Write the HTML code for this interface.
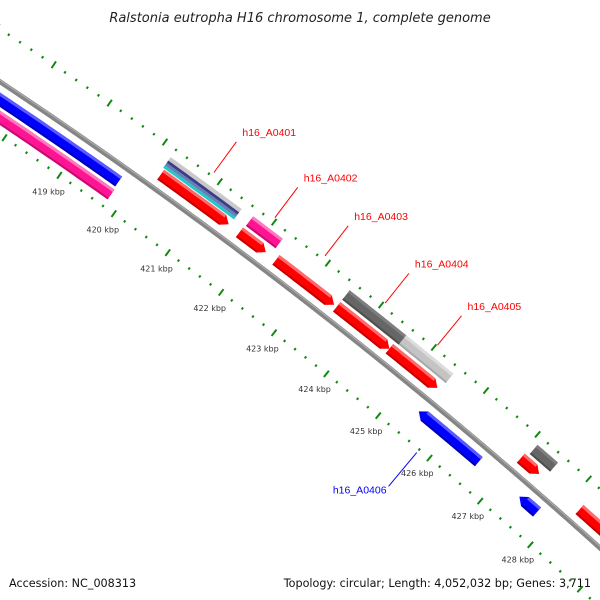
<!DOCTYPE html>
<html><head><meta charset="utf-8"><style>
html,body{margin:0;padding:0;background:#fff;width:600px;height:600px;overflow:hidden}
svg{display:block;font-family:"Liberation Sans","DejaVu Sans",sans-serif;overflow:hidden}
</style></head><body>
<svg id="map" width="600" height="600" viewBox="0 0 600 600">
<text x="300" y="22" text-anchor="middle" font-size="13" font-style="italic" fill="#222" style="font-family:'DejaVu Sans',sans-serif">Ralstonia eutropha H16 chromosome 1, complete genome</text>
<text x="9" y="587" font-size="11.2" fill="#111" style="font-family:'DejaVu Sans',sans-serif">Accession: NC_008313</text>
<text x="591" y="587" text-anchor="end" font-size="11.2" fill="#111" style="font-family:'DejaVu Sans',sans-serif">Topology: circular; Length: 4,052,032 bp; Genes: 3,711</text>
</svg>
<script>
// data (kbp)
const featStart = [416, 416, 420.23, 421.68, 421.7, 422.36, 423.5, 424.5, 423.5, 424.57, 425.43, 427.1, 427.04, 427.4, 428.2];
const featEnd   = [419.78, 419.8, 421.48, 422.17, 422.25, 423.45, 424.5, 425.42, 424.57, 425.47, 426.6, 427.5, 427.4, 427.75, 429.6];
const featStrand= [-1, -1, 1, 1, 1, 1, 1, 1, 1, 1, -1, 1, 1, -1, 1];
const featTrack = [1, 2, 1, 1, 2, 1, 1, 1, 2, 2, 1, 2, 1, 1, 1];
const featArrow = [0, 0, 1, 1, 0, 1, 1, 1, 0, 0, 1, 0, 1, 1, 1];
const featKind  = ['blue','pink','red','red','pink','red','red','red','dgray','lgray','blue','dgray','red','blue','red'];
const stackStart = [420.2, 420.2, 420.2, 420.2];
const stackEnd   = [421.5, 421.5, 421.5, 421.5];
const stackKind  = ['cyan','slate','navy','silver'];
const labelNames = ['h16_A0401','h16_A0402','h16_A0403','h16_A0404','h16_A0405','h16_A0406'];
const labelPos   = [420.85, 421.97, 422.9, 424.03, 425.02, 425.8];
const labelStrand= [1, 1, 1, 1, 1, -1];
const tickLabels = [419, 420, 421, 422, 423, 424, 425, 426, 427, 428];

const R = 5190, CX = -2876, CY = 4402, K0 = 419, PHI0 = -55.22, DPK = 0.741;
function pt(k, r){const a=(PHI0+(k-K0)*DPK)*Math.PI/180;const rr=R+r;return [CX+rr*Math.cos(a), CY+rr*Math.sin(a)];}
const NS='http://www.w3.org/2000/svg';
const svg=document.getElementById('map');
function mk(tag, attrs){const e=document.createElementNS(NS,tag);for(const k in attrs)e.setAttribute(k,attrs[k]);return e;}
function arcPts(k1,k2,r){const n=Math.max(2,Math.ceil(Math.abs(k2-k1)*20));const a=[];for(let i=0;i<=n;i++){a.push(pt(k1+(k2-k1)*i/n,r));}return a;}
function ptsStr(a){return a.map(p=>p[0].toFixed(2)+','+p[1].toFixed(2)).join(' ');}
const palette={red:['#ff0000','#ff6a6a','#c80000'],blue:['#0000ff','#5a5aff','#0000b4'],pink:['#ff1493','#ff78bf','#c80a70'],
 dgray:['#666666','#7e7e7e','#4e4e4e'],lgray:['#c4c4c4','#dcdcdc','#a8a8a8'],cyan:['#22c8cc'],slate:['#6680b0'],navy:['#3c3c8c'],silver:['#c8c8c8']};
const trackR=[0,15,30];

const bb=mk('polyline',{points:ptsStr(arcPts(412,431,0)),fill:'none',stroke:'#858585','stroke-width':5});


svg.appendChild(bb);
const bb2=mk('polyline',{points:ptsStr(arcPts(412,431,1.3)),fill:'none',stroke:'#aaaaaa','stroke-width':1.2});


svg.appendChild(bb2);

for(const side of [1,-1]){
  for(let i=413*5;i<=431*5;i++){
    const k=i/5, major=(i%5===0);
    const r0=44*side, len=major?8:2.5;
    const p1=pt(k,r0-len/2), p2=pt(k,r0+len/2);
    if(p1[0]<-5||p1[0]>605||p1[1]<-5||p1[1]>605) continue;
    const t=mk('line',{x1:p1[0],y1:p1[1],x2:p2[0],y2:p2[1],stroke:'#118811','stroke-width':2});
    
    
    svg.appendChild(t);
  }
}
tickLabels.forEach(v=>{
  const p=pt(v,-63);
  const t=mk('text',{x:p[0],y:p[1]+3.5,'text-anchor':'middle','font-size':8,fill:'#333',style:"font-family:'DejaVu Sans',sans-serif"});
  t.textContent=v+' kbp';
  
  
  svg.appendChild(t);
});

function band(k1,k2,rc,w,strand,arrow,kind,name){
  const g=mk('g',{});
  
  
  const ah=0.11, c=palette[kind];
  let b1=k1,b2=k2;
  if(arrow){ if(strand>0) b2=k2-ah; else b1=k1+ah; }
  const outer=arcPts(b1,b2,rc+w/2), inner=arcPts(b1,b2,rc-w/2).reverse();
  let poly=[...outer];
  if(arrow&&strand>0) poly.push(pt(k2,rc));
  poly=poly.concat(inner);
  if(arrow&&strand<0) poly.push(pt(k1,rc));
  g.appendChild(mk('polygon',{points:ptsStr(poly),fill:c[0]}));
  if(c.length>1){
    const hi=arcPts(b1,b2,rc+w/2).concat(arcPts(b1,b2,rc+w/2-3).reverse());
    g.appendChild(mk('polygon',{points:ptsStr(hi),fill:c[1]}));
    const lo=arcPts(b1,b2,rc-w/2+2).concat(arcPts(b1,b2,rc-w/2).reverse());
    g.appendChild(mk('polygon',{points:ptsStr(lo),fill:c[2]}));
  }
  svg.appendChild(g);
}
featStart.forEach((s,i)=>{
  band(s,featEnd[i],featStrand[i]*trackR[featTrack[i]],12,featStrand[i],featArrow[i],featKind[i],'gene-feature-'+i);
});
const stackR=[23.5,26.5,29.5,33];
const stackW=[3,3,3,4];
stackStart.forEach((s,i)=>{
  band(s,stackEnd[i],stackR[i],stackW[i],1,0,stackKind[i],'stacked-feature-'+stackKind[i]);
});

labelNames.forEach((n,i)=>{
  const sd=labelStrand[i];
  const col=sd>0?'#ff0000':'#0000ff';
  const a=pt(labelPos[i],sd*48), b=pt(labelPos[i],sd*(sd>0?86:92));
  const l=mk('line',{x1:a[0],y1:a[1],x2:b[0],y2:b[1],stroke:col,'stroke-width':1});
  
  
  svg.appendChild(l);
  const t=mk('text',{x:sd>0?b[0]+6:b[0]-2,y:sd>0?b[1]-6:b[1]+7,'text-anchor':sd>0?'start':'end','font-size':10.5,fill:col});
  t.textContent=n;
  
  
  svg.appendChild(t);
});
</script>
</body></html>
